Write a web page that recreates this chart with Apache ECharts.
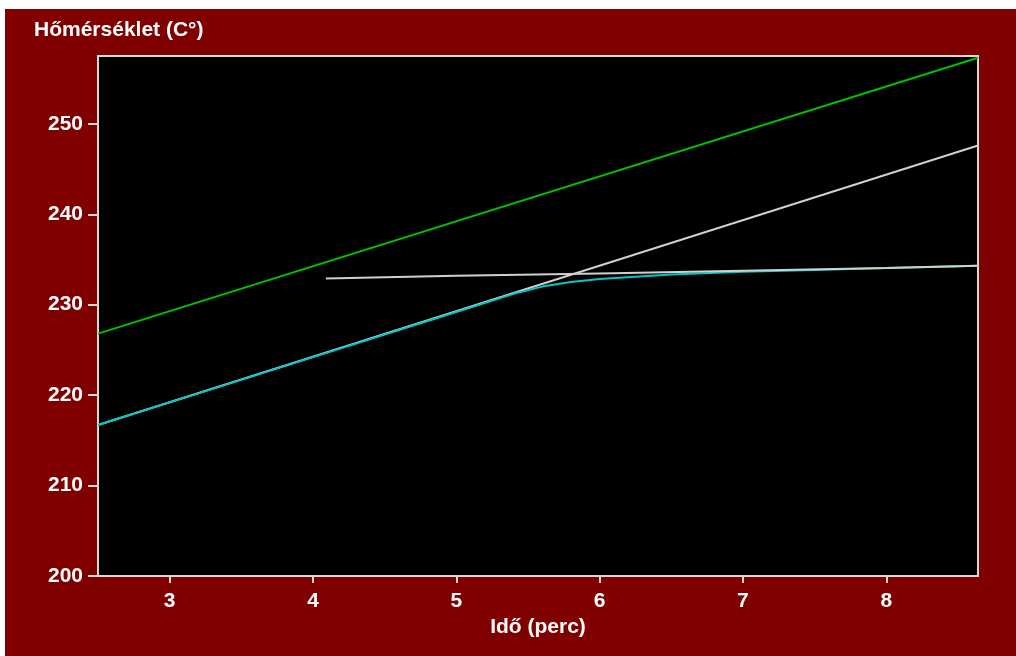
<!DOCTYPE html>
<html>
<head>
<meta charset="utf-8">
<script src="https://cdn.jsdelivr.net/npm/echarts@6/dist/echarts.min.js"></script>
<style>
  html, body { margin: 0; padding: 0; background: #ffffff; }
  #chart { position: absolute; left: 5px; top: 9px; width: 1011px; height: 647px; }
</style>
</head>
<body>
<div id="chart"></div>
<script>
// Time axis (minutes) and temperature axis (°C)
const xTicks = [3, 4, 5, 6, 7, 8];
const yTicks = [200, 210, 220, 230, 240, 250];

// Upper reference line (green)
const greenTime = [2.5, 8.64];
const greenTemp = [226.8, 257.3];

// Heating ramp (white, diagonal)
const rampTime = [2.5, 8.64];
const rampTemp = [216.7, 247.6];

// Plateau level (white, nearly horizontal)
const plateauTime = [4.09, 5.0, 6.0, 7.0, 8.0, 8.64];
const plateauTemp = [232.9, 233.2, 233.45, 233.75, 234.05, 234.3];

// Measured temperature (cyan)
const measTime = [2.5, 3, 4, 5, 5.4, 5.6, 5.8, 6.0, 6.5, 7.0, 7.5, 8.0, 8.64];
const measTemp = [216.7, 219.2, 224.2, 229.2, 231.2, 232.0, 232.5, 232.85, 233.35, 233.65, 233.85, 234.05, 234.3];

const pair = (xs, ys) => xs.map((x, i) => [x, ys[i]]);

const font = '"Liberation Sans", Arial, sans-serif';
const chart = echarts.init(document.getElementById('chart'), null, { renderer: 'canvas' });

const lineSeries = (data, color) => ({
  type: 'line',
  data: data,
  showSymbol: false,
  symbol: 'none',
  smooth: false,
  animation: false,
  lineStyle: { color: color, width: 2 }
});

chart.setOption({
  backgroundColor: '#800000',
  animation: false,
  title: {
    text: 'Hőmérséklet (C°)',
    left: 24,
    top: 6,
    textStyle: { color: '#ffffff', fontFamily: font, fontWeight: 'bold', fontSize: 21 }
  },
  grid: {
    left: 93, top: 47, width: 880, height: 520,
    show: true,
    backgroundColor: '#000000',
    borderColor: '#d8d8d8',
    borderWidth: 2
  },
  xAxis: {
    type: 'value',
    min: 2.5,
    max: 8.64,
    name: 'Idő (perc)',
    nameLocation: 'middle',
    nameGap: 38,
    nameTextStyle: { color: '#ffffff', fontFamily: font, fontWeight: 'bold', fontSize: 21 },
    splitLine: { show: false },
    axisLine: { show: true, lineStyle: { color: '#d8d8d8', width: 2 } },
    axisTick: { show: true, length: 7, customValues: xTicks, lineStyle: { color: '#d8d8d8', width: 2 } },
    axisLabel: {
      customValues: xTicks,
      margin: 15,
      color: '#ffffff', fontFamily: font, fontWeight: 'bold', fontSize: 21
    }
  },
  yAxis: {
    type: 'value',
    min: 200,
    max: 257.5,
    splitLine: { show: false },
    axisLine: { show: true, lineStyle: { color: '#d8d8d8', width: 2 } },
    axisTick: { show: true, length: 10, customValues: yTicks, lineStyle: { color: '#d8d8d8', width: 2 } },
    axisLabel: {
      customValues: yTicks,
      margin: 15,
      color: '#ffffff', fontFamily: font, fontWeight: 'bold', fontSize: 21
    }
  },
  series: [
    lineSeries(pair(greenTime, greenTemp), '#00c000'),
    lineSeries(pair(rampTime, rampTemp), '#d0d0d0'),
    lineSeries(pair(measTime, measTemp), '#00c8c8'),
    lineSeries(pair(plateauTime, plateauTemp), '#d0d0d0')
  ]
});
</script>
</body>
</html>
